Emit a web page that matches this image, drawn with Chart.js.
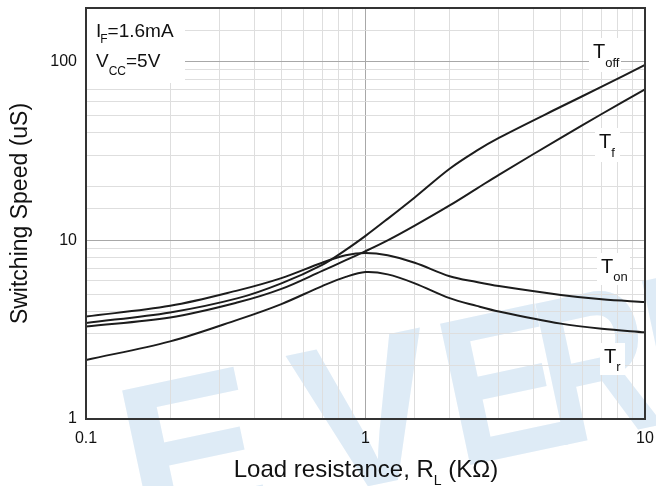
<!DOCTYPE html>
<html><head><meta charset="utf-8">
<script src="https://cdn.jsdelivr.net/npm/chart.js@4"></script>
<style>html,body{margin:0;padding:0;background:#fff}#wrap{width:656px;height:486px}</style>
</head><body><div id="wrap"><canvas id="c" width="656" height="486"></canvas></div>
<script>
const loadR = [0.1, 0.2, 0.35, 0.5, 0.7, 0.85, 1, 1.2, 1.5, 2, 2.5, 3, 5, 7, 10];
const tOn  = [3.75, 4.3, 5.25, 6.15, 7.5, 8.25, 8.5, 8.25, 7.5, 6.3, 5.85, 5.55, 4.95, 4.68, 4.52];
const tOff = [3.45, 3.95, 4.75, 5.75, 7.3, 8.85, 10.6, 13.2, 17.4, 25.2, 31.8, 37.5, 56, 72.5, 96];
const tF   = [3.3, 3.7, 4.5, 5.35, 6.75, 7.75, 8.7, 10.0, 12.1, 15.7, 19.5, 23.3, 37.5, 51, 70];
const tR   = [2.14, 2.72, 3.6, 4.4, 5.55, 6.25, 6.65, 6.45, 5.75, 4.75, 4.3, 4.0, 3.42, 3.2, 3.06];
const xTickLabels = ['0.1', '1', '10'];
const yTickLabels = ['1', '10', '100'];
const FONT = '"Liberation Sans", Arial, sans-serif';

function pts(ys){ return loadR.map((x,i)=>({x:x, y:ys[i]})); }
function isMajor(v){ const l=Math.log10(v); return Math.abs(l-Math.round(l))<1e-6; }
function ds(label, ys){ return {label, data:pts(ys), borderColor:'#1c1c1c', borderWidth:2, pointRadius:0, tension:0.35, fill:false}; }

function subText(ctx, parts, x, y){
  let cx = x;
  for (const p of parts){
    ctx.font = p[1] + 'px ' + FONT;
    ctx.fillText(p[0], cx, y + p[2]);
    cx += ctx.measureText(p[0]).width + (p[3]||0);
  }
  return cx;
}

const watermark = {
  id:'watermark',
  beforeDraw(chart){
    const ctx = chart.ctx;
    const ang = -0.21, ca = Math.cos(ang), sa = Math.sin(ang);
    const letters = [['E',122,1.0],['V',285,1.0],['E',440,0.85],['R',535,0.75],['I',642,0.85]];
    ctx.save();
    ctx.fillStyle = 'rgb(222,235,246)';
    ctx.font = 'bold 210px ' + FONT;
    ctx.textBaseline = 'alphabetic';
    for (const [ch, tlx, sx] of letters){
      const tly = 390 - 0.21*(tlx - 122);
      const m = ctx.measureText(ch);
      const u = -m.actualBoundingBoxLeft*sx, v = -m.actualBoundingBoxAscent;
      const ox = tlx - (u*ca - v*sa), oy = tly - (u*sa + v*ca);
      ctx.save();
      ctx.translate(ox, oy);
      ctx.rotate(ang);
      ctx.scale(sx, 1);
      ctx.fillText(ch, 0, 0);
      ctx.restore();
    }
    ctx.restore();
  }
};

const deco = {
  id:'deco',
  afterDatasetsDraw(chart){
    const ctx = chart.ctx, a = chart.chartArea;
    ctx.save();
    ctx.fillStyle = '#fff';
    ctx.fillRect(a.left+1, a.top+1, 98, 74);
    ctx.fillRect(589, 38, 32, 34);
    ctx.fillRect(595, 128, 25, 34);
    ctx.fillRect(597, 253, 33, 32);
    ctx.fillRect(600, 343, 25, 32);
    ctx.fillStyle = '#111';
    ctx.textBaseline = 'alphabetic';
    subText(ctx, [['I',19,0,-1],['F',12,6],['=1.6mA',19,0]], 96, 37);
    subText(ctx, [['V',19,0],['CC',12,8],['=5V',19,0]], 96, 67);
    subText(ctx, [['T',20,0],['off',13,9]], 593, 58);
    subText(ctx, [['T',20,0],['f',13,9]], 599, 148);
    subText(ctx, [['T',20,0],['on',13,8]], 601, 273);
    subText(ctx, [['T',20,0],['r',13,8]], 604, 363);
    // x title
    const parts = [['Load resistance, R',24,0],['L',14,8],[' (K\u03A9)',24,0]];
    let w = 0;
    for (const p of parts){ ctx.font = p[1]+'px '+FONT; w += ctx.measureText(p[0]).width; }
    subText(ctx, parts, 366 - w/2, 477);
    // frame
    ctx.strokeStyle = '#333';
    ctx.lineWidth = 2;
    ctx.strokeRect(a.left, a.top, a.right-a.left, a.bottom-a.top);
    ctx.restore();
  }
};

const gridColor = (c) => (c.tick && isMajor(c.tick.value)) ? '#a8a8a8' : '#dedede';

new Chart(document.getElementById('c'), {
  type:'line',
  data:{ datasets:[ ds('Toff', tOff), ds('Tf', tF), ds('Ton', tOn), ds('Tr', tR) ] },
  options:{
    responsive:false, animation:false,
    layout:{ padding:{ left:0, right:11, top:8, bottom:0 } },
    plugins:{ legend:{display:false}, tooltip:{enabled:false} },
    scales:{
      x:{ type:'logarithmic', min:0.1, max:10,
          grid:{ color:gridColor, drawTicks:false, lineWidth:1 },
          border:{ display:false },
          ticks:{ autoSkip:false, maxRotation:0, padding:10, color:'#111', font:{family:FONT, size:16},
                  callback:(v)=> { if(!isMajor(v)) return ''; const s = xTickLabels.find(t=>Math.abs(parseFloat(t)-v)<1e-9); return s||''; } },
          afterFit:(s)=>{ s.height = 67; s.paddingLeft = 0; s.paddingRight = 0; } },
      y:{ type:'logarithmic', min:1, max:200,
          grid:{ color:gridColor, drawTicks:false, lineWidth:1 },
          border:{ display:false },
          ticks:{ autoSkip:false, padding:9, color:'#111', font:{family:FONT, size:16},
                  callback:(v)=> { if(!isMajor(v)) return ''; const s = yTickLabels.find(t=>Math.abs(parseFloat(t)-v)<1e-9); return s||''; } },
          title:{ display:true, text:'Switching Speed (uS)', color:'#111', font:{family:FONT, size:23}, padding:{top:7,bottom:0} },
          afterFit:(s)=>{ s.width = 86; s.paddingTop = 0; s.paddingBottom = 0; } }
    }
  },
  plugins:[watermark, deco]
});
</script></body></html>
